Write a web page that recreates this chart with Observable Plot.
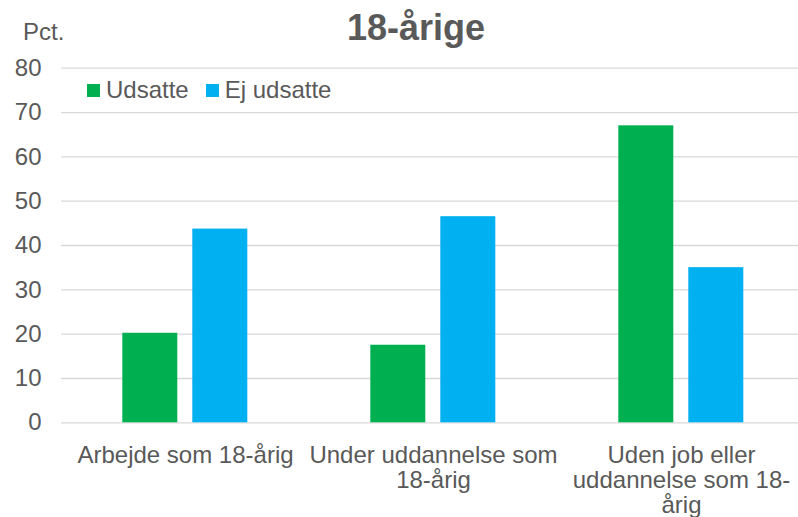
<!DOCTYPE html>
<html><head><meta charset="utf-8">
<script src="https://cdn.jsdelivr.net/npm/d3@7"></script>
<script src="https://cdn.jsdelivr.net/npm/@observablehq/plot@0.6"></script>
<style>
html,body{margin:0;padding:0;background:#fff;overflow:hidden;}
#wrap{position:relative;width:798px;height:517px;overflow:hidden;font-family:"Liberation Sans",Arial,sans-serif;color:#595959;}
#chart{position:absolute;left:0;top:0;}
#title{position:absolute;left:216px;width:400px;top:9.5px;text-align:center;font-size:36px;font-weight:bold;line-height:36px;white-space:nowrap;}
#pct{position:absolute;left:23px;top:19.7px;font-size:24px;line-height:24px;}
#legend{position:absolute;left:87px;top:78px;}
#legend > div{min-height:0 !important;margin:0 !important;font-size:24px !important;line-height:24px !important;font-family:"Liberation Sans",Arial,sans-serif !important;color:#595959 !important;}
#legend span{margin-right:17px !important;}
#legend span svg{margin-right:6px !important;}
</style>
</head><body>
<div id="wrap">
  <div id="chart"></div>
  <div id="title"></div>
  <div id="pct"></div>
  <div id="legend"></div>
</div>
<script>
const titleText = "18-årige";
const unitText = "Pct.";
const categories = ["Arbejde som 18-årig", "Under uddannelse som 18-årig", "Uden job eller uddannelse som 18-årig"];
const tickLabels = ["Arbejde som 18-årig", "Under uddannelse som\n18-årig", "Uden job eller\nuddannelse som 18-\nårig"];
const series = ["Udsatte", "Ej udsatte"];
const colors = ["#00B050", "#00B0F0"];
const udsatte = [20.2, 17.5, 67.0];
const ejUdsatte = [43.7, 46.5, 35.0];
const yTicks = [0, 10, 20, 30, 40, 50, 60, 70, 80];

const data = [];
categories.forEach((c, i) => {
  data.push({cat: c, series: series[0], value: udsatte[i]});
  data.push({cat: c, series: series[1], value: ejUdsatte[i]});
});

document.getElementById("title").textContent = titleText;
document.getElementById("pct").textContent = unitText;

const font = '"Liberation Sans", Arial, sans-serif';
const plot = Plot.plot({
  width: 798,
  height: 517,
  marginTop: 67.7,
  marginBottom: 94.7,
  marginLeft: 60.7,
  marginRight: -7.6,
  style: {fontFamily: font, color: "#595959", background: "transparent", overflow: "hidden"},
  fx: {domain: categories, padding: 0, label: null},
  x: {domain: series, paddingInner: 0.2125, paddingOuter: 0.865, axis: null},
  y: {domain: [0, 80], label: null},
  color: {domain: series, range: colors},
  marks: [
    Plot.gridY(yTicks, {stroke: "#d9d9d9", strokeOpacity: 1, strokeWidth: 1.3}),
    Plot.axisY(yTicks, {tickSize: 0, tickPadding: 20, fontSize: 24, label: null, fill: "#595959"}),
    Plot.axisFx({anchor: "bottom", tickSize: 0, tickPadding: 23, fontSize: 24, lineHeight: 1.03, label: null, fill: "#595959",
      tickFormat: d => tickLabels[categories.indexOf(d)]}),
    Plot.barY(data, {fx: "cat", x: "series", y: "value", fill: "series"})
  ]
});
document.getElementById("chart").appendChild(plot);

const leg = Plot.legend({color: {domain: series, range: colors}, legend: "swatches", swatchSize: 13,
  style: {fontSize: "24px", fontFamily: font, color: "#595959"}});
document.getElementById("legend").appendChild(leg);
</script>
</body></html>
